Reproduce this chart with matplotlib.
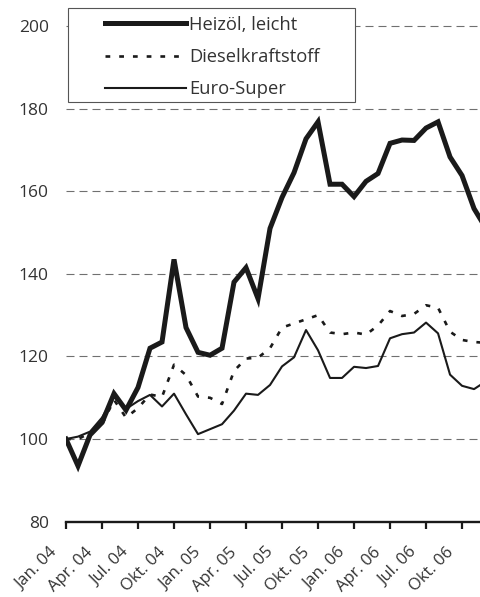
# plot.py
# Price index of heating oil, diesel and petrol, Jan. 2004 = 100

import numpy as np
import matplotlib
matplotlib.use("Agg")
import matplotlib.pyplot as plt
import matplotlib.transforms as mtransforms
from matplotlib.patches import Rectangle

# Data (monthly, Jan. 04 .. Dec. 06, index Jan. 04 = 100)
months = np.arange(36)
tick_months = [0, 3, 6, 9, 12, 15, 18, 21, 24, 27, 30, 33]
tick_labels = ["Jan. 04", "Apr. 04", "Jul. 04", "Okt. 04",
               "Jan. 05", "Apr. 05", "Jul. 05", "Okt. 05",
               "Jan. 06", "Apr. 06", "Jul. 06", "Okt. 06"]

heizoel = [100, 93.5, 101, 104, 111, 107, 112.5, 122, 123.5, 143.5, 127, 121,
           120.3, 122, 138, 141.5, 134, 151, 158.5, 164.5, 172.7, 176.8, 161.7, 161.7,
           158.7, 162.4, 164.3, 171.6, 172.4, 172.3, 175.3, 176.8, 168.3, 163.8, 155.8, 151]
diesel = [100, 100, 101.5, 103.5, 109.5, 105.2, 107.5, 110.8, 110.2, 118, 115.5, 110.3,
          110, 108.5, 116.5, 119.5, 119.7, 122, 127, 128, 129, 130, 125.8, 125.4,
          125.8, 125.3, 127.5, 131, 129.8, 130.3, 132.4, 131.8, 126, 124, 123.5, 123.3]
super_ = [100, 100.6, 101.8, 105.2, 110.2, 107.3, 109.2, 110.7, 107.9, 111, 106, 101.2,
          102.4, 103.6, 106.9, 111, 110.7, 113.1, 117.6, 119.8, 126.4, 121.5, 114.8, 114.8,
          117.5, 117.2, 117.7, 124.4, 125.4, 125.8, 128.2, 125.6, 115.6, 112.9, 112.1, 114]

TXT = "#333333"
plt.rcParams["font.family"] = ["Open Sans", "DejaVu Sans"]

fig = plt.figure(figsize=(4.81, 5.97), dpi=100)
ax = fig.add_axes([66 / 481, 75.3 / 597, 415 / 481, 521.7 / 597])

# dashed grid lines
for v in [100, 120, 140, 160, 180, 200]:
    ax.axhline(v, color="#707070", lw=0.8, linestyle=(0, (7.2, 4.5)), zorder=1)

l1, = ax.plot(months, heizoel, color="#1a1a1a", lw=3.6, solid_joinstyle="miter",
              label="Heizöl, leicht", zorder=4)
l2, = ax.plot(months, diesel, color="#1a1a1a", lw=1.9, linestyle=(0, (1.8, 3.4)),
              label="Dieselkraftstoff", zorder=3)
l3, = ax.plot(months, super_, color="#1a1a1a", lw=1.5, label="Euro-Super", zorder=3)

ax.set_xlim(0, 34.58)
ax.set_ylim(80, 206.3)

for s in ["top", "right", "left"]:
    ax.spines[s].set_visible(False)
ax.spines["bottom"].set_linewidth(1.7)
ax.spines["bottom"].set_color("#1a1a1a")
ax.spines["bottom"].set_zorder(5)

ax.set_yticks([80, 100, 120, 140, 160, 180, 200])
ax.tick_params(axis="y", length=0, pad=12.5, labelsize=12.5, labelcolor=TXT)

ax.set_xticks(tick_months)
ax.set_xticklabels(tick_labels, rotation=45, ha="right", va="center",
                   rotation_mode="anchor")
ax.tick_params(axis="x", direction="out", length=5, width=1.6, color="#1a1a1a",
               pad=15.5, labelsize=12, labelcolor=TXT)
offset = mtransforms.ScaledTranslation(-8 / 72, 0, fig.dpi_scale_trans)
for lab in ax.get_xticklabels():
    lab.set_transform(lab.get_transform() + offset)

# legend box
frame = Rectangle((0.005, 0.804), 0.691, 0.181, transform=ax.transAxes,
                  facecolor="white", edgecolor="#555555", lw=0.8, zorder=6)
ax.add_patch(frame)
leg = ax.legend(handles=[l1, l2, l3], loc="upper left",
                bbox_to_anchor=(0.094, 0.970), borderaxespad=0, borderpad=0,
                frameon=False, fontsize=13.2, handlelength=4.4, handletextpad=0.2,
                labelspacing=0.78, labelcolor=TXT)
leg.set_zorder(7)

fig.savefig("out.png", dpi=100)
